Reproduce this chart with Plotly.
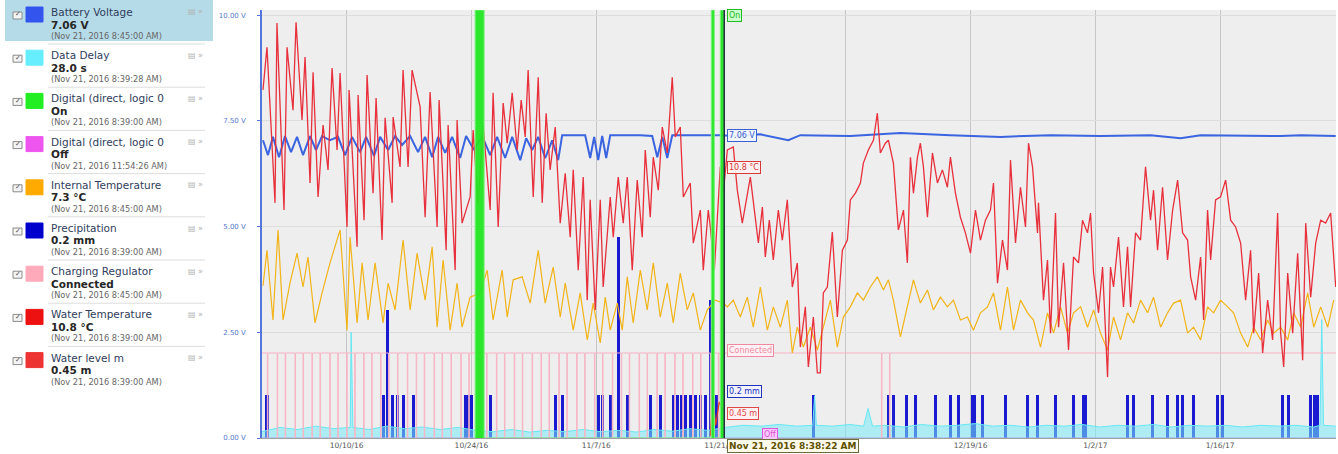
import pandas as pd
import plotly.graph_objects as go

# ---------------- DATA ----------------
START = pd.Timestamp("2016-09-30 12:00:00")   # day 0
SPAN_DAYS = 120.5
Y_TOP = 10.12
CURSOR_DAY = 51.86                              # Nov 21, 2016 8:38:22 AM

x_tick_days = [9.5, 23.5, 37.5, 51.5, 65.5, 79.5, 93.5, 107.5]
x_tick_text = ["10/10/16", "10/24/16", "11/7/16", "11/21/16", "",
               "12/19/16", "1/2/17", "1/16/17"]
y_tick_vals = [0, 2.5, 5, 7.5, 10]
y_tick_text = ["0.00 V", "2.50 V", "5.00 V", "7.50 V", "10.00 V"]

# Water Temperature (day, value on the 0-10 scale)
water_temp = [
    (0.11, 8.23), (0.56, 9.24), (1.46, 5.56), (1.68, 9.81), (2.47, 5.39), (2.81, 9.24),
    (3.48, 7.75), (3.82, 9.83), (4.49, 7.52), (4.83, 9.01), (5.39, 6.03), (5.73, 8.65),
    (6.29, 5.70), (6.85, 7.40), (7.41, 6.34), (7.86, 8.75), (8.42, 6.81), (8.76, 8.63),
    (9.54, 4.99), (9.77, 8.23), (10.67, 4.52), (10.78, 8.11), (11.45, 5.15), (11.79, 8.58),
    (12.46, 5.79), (12.80, 8.04), (13.47, 4.68), (13.81, 7.57), (14.60, 5.56), (14.71, 7.59),
    (15.49, 6.41), (15.83, 8.70), (16.39, 6.41), (16.84, 8.70), (17.74, 7.83), (18.30, 5.22),
    (18.86, 8.18), (19.65, 4.99), (19.87, 7.99), (20.66, 4.44), (20.88, 7.40), (21.67, 3.97),
    (21.89, 7.52), (22.45, 5.08), (23.35, 5.70), (23.69, 7.28), (24.25, 5.50), (24.81, 7.40),
    (25.60, 5.39), (25.93, 8.16), (26.50, 4.99),
    (27.06, 7.92), (27.51, 6.97), (28.07, 8.16), (28.63, 6.81), (29.08, 7.99), (29.53, 7.12),
    (29.86, 8.70), (30.43, 5.70), (30.99, 8.53), (31.44, 5.56), (31.88, 7.68), (32.33, 6.34),
    (32.90, 7.35), (33.46, 5.08), (34.02, 6.26), (34.58, 4.75), (34.92, 6.34), (35.48, 3.97),
    (36.04, 6.17), (36.49, 3.26), (36.82, 5.63), (37.39, 3.03), (37.95, 5.63), (38.28, 3.57),
    (39.07, 5.70), (39.41, 4.75), (39.97, 6.17), (40.53, 5.08), (40.98, 6.17), (41.54, 3.97),
    (42.10, 6.10), (42.66, 4.75), (43.00, 6.81), (43.56, 5.22), (43.90, 6.64), (44.46, 5.86),
    (44.91, 7.35), (45.47, 6.74), (46.03, 8.53), (46.37, 7.12), (46.93, 7.35), (47.27, 5.70),
    (48.05, 6.03), (48.39, 4.61), (49.18, 5.39), (49.51, 3.97), (50.07, 5.39), (50.30, 4.99),
    (50.75, 3.97), (51.42, 6.41), (51.76, 5.79),
    (52.21, 6.81), (52.88, 6.88), (53.33, 5.86), (53.89, 5.08), (54.79, 6.17), (55.12, 5.63),
    (55.69, 4.61), (56.14, 5.46), (56.47, 4.28), (56.92, 5.15), (57.37, 4.21), (57.93, 5.39),
    (58.38, 4.68), (58.94, 5.63), (59.50, 3.57), (60.06, 4.14), (60.40, 2.15), (60.96, 3.10),
    (61.30, 1.68), (61.86, 2.86), (62.31, 1.54), (62.64, 1.54), (62.98, 3.43), (63.43, 3.57),
    (63.99, 4.87), (64.55, 2.86), (65.12, 4.44), (65.68, 4.68), (66.01, 5.63), (66.58, 5.79),
    (67.14, 6.03), (67.47, 6.50), (68.03, 6.81), (68.60, 7.04), (69.04, 7.68), (69.38, 6.74),
    (69.94, 6.97), (70.28, 7.04), (70.84, 6.50), (71.40, 4.92), (71.97, 5.39), (72.41, 4.14),
    (72.75, 6.64), (73.09, 5.79), (73.54, 6.64), (73.87, 6.97), (74.21, 6.41), (74.66, 5.22),
    (75.22, 6.74), (75.78, 6.03), (76.34, 6.34), (76.90, 5.93), (77.24, 6.64), (77.80, 5.79),
    (78.36, 5.22), (78.92, 4.85), (79.49, 4.37), (80.05, 5.39), (80.61, 4.68), (81.17, 5.15),
    (81.73, 5.39), (82.07, 6.03), (82.52, 3.66), (83.08, 4.68), (83.64, 3.97), (83.98, 6.57),
    (84.54, 4.61), (85.10, 5.93), (85.66, 4.99), (86.00, 6.97),
    (86.45, 6.41), (87.01, 4.85), (87.12, 5.56), (87.68, 3.26), (88.13, 4.21), (88.47, 2.48),
    (89.03, 5.32), (89.37, 2.62), (89.93, 4.14), (90.49, 2.08), (91.05, 4.28), (91.61, 4.14),
    (92.06, 5.15), (92.62, 4.85), (92.96, 5.32), (93.30, 3.90), (93.86, 2.96), (94.31, 4.04),
    (94.87, 1.44), (95.20, 4.04), (95.54, 3.57), (96.10, 4.75), (96.66, 3.10), (97.11, 4.52),
    (97.45, 3.10), (98.01, 4.85), (98.57, 4.68), (99.13, 6.41), (99.69, 5.15), (100.03, 5.86),
    (100.48, 4.44), (101.04, 5.93), (101.60, 4.21), (102.17, 5.39), (102.73, 6.10), (103.29, 4.85),
    (103.85, 4.68), (104.19, 3.81), (104.75, 3.26), (105.31, 4.28), (105.65, 2.79), (106.09, 5.39),
    (106.43, 4.21), (106.99, 5.63), (107.55, 5.70), (108.12, 6.10), (108.68, 5.15), (109.24, 4.99),
    (109.80, 4.61), (110.36, 3.26), (110.92, 4.44), (111.26, 2.48), (111.82, 3.90), (112.27, 2.01),
    (112.83, 3.26), (113.39, 2.32), (113.95, 5.32), (114.29, 2.48), (114.63, 1.68), (115.08, 3.90),
    (115.64, 2.48), (116.20, 4.37), (116.76, 1.84), (117.10, 5.08), (117.66, 3.33), (118.22, 4.61),
    (118.78, 5.15), (119.34, 5.08), (119.90, 5.32), (120.47, 3.57),
]

# Internal Temperature
internal_temp = [
    (0.11, 3.60), (0.56, 4.44), (1.23, 2.79), (1.80, 4.92), (2.36, 2.79), (3.14, 3.66),
    (3.93, 4.37), (4.60, 3.57), (5.16, 4.28), (5.95, 2.72), (6.74, 3.43), (7.63, 4.14),
    (8.76, 4.92), (9.54, 2.55), (9.88, 4.75), (10.67, 2.72), (11.23, 4.14), (11.90, 2.79),
    (12.69, 4.14), (13.58, 2.72), (14.15, 3.66), (14.93, 3.03), (15.83, 4.68), (16.62, 3.03),
    (17.40, 4.37), (18.30, 3.26), (19.09, 4.52), (19.65, 2.62), (20.32, 4.21), (21.11, 2.55),
    (21.89, 3.66), (22.45, 2.62), (23.35, 3.33), (24.47, 3.43), (25.26, 3.97), (25.93, 2.79),
    (26.94, 3.97), (27.51, 2.86), (28.18, 3.74), (29.19, 3.81), (30.09, 3.19), (30.99, 4.44),
    (31.77, 3.19), (32.67, 4.04), (33.46, 2.86), (34.02, 3.66), (34.92, 2.55), (35.70, 3.43),
    (36.49, 2.32), (37.16, 3.19), (37.95, 2.25), (38.51, 3.33), (39.07, 2.55), (39.86, 3.19),
    (40.42, 2.55), (40.98, 3.81), (41.65, 2.72), (42.44, 3.97), (43.22, 3.03), (43.90, 4.14),
    (44.68, 2.86), (45.47, 3.66), (46.14, 2.72), (46.93, 3.90), (47.71, 3.03), (48.39, 3.43),
    (49.18, 2.55), (49.96, 3.03), (50.86, 3.26), (51.76, 3.19),
    (52.21, 3.10), (52.88, 3.26), (53.66, 2.86), (54.45, 3.33), (55.12, 2.62), (55.91, 3.57),
    (56.70, 2.55), (57.37, 3.10), (58.16, 2.62), (58.94, 3.26), (59.50, 2.01), (60.06, 2.62),
    (60.74, 2.15), (61.52, 2.62), (62.31, 2.08), (62.98, 2.62), (63.77, 3.26), (64.55, 2.15),
    (65.23, 2.86), (66.01, 3.10), (66.80, 3.43), (67.47, 3.26), (68.26, 3.57), (69.04, 3.81),
    (69.72, 3.50), (70.28, 3.74), (70.84, 3.26), (71.63, 2.39), (72.41, 3.10), (73.09, 3.74),
    (73.87, 3.19), (74.66, 3.50), (75.33, 3.03), (76.12, 3.33), (76.90, 3.10), (77.58, 3.26),
    (78.36, 2.79), (79.15, 2.86), (79.82, 2.55), (80.61, 2.96), (81.40, 3.10), (82.07, 3.43),
    (82.86, 2.55), (83.64, 3.57), (84.32, 2.55), (85.10, 3.26), (85.89, 2.96),
    (86.56, 2.79), (87.35, 2.15), (88.13, 2.96), (88.81, 2.48), (89.59, 3.10), (90.38, 2.48),
    (91.05, 2.96), (91.84, 3.10), (92.62, 2.62), (93.30, 3.03), (94.08, 2.48), (94.87, 2.08),
    (95.54, 2.86), (96.33, 2.32), (97.11, 2.96), (97.79, 2.72), (98.57, 3.26), (99.36, 2.96),
    (100.03, 3.33), (100.82, 2.62), (101.60, 2.96), (102.28, 3.19), (103.06, 3.26), (103.85, 2.48),
    (104.52, 2.62), (105.31, 2.32), (106.09, 3.10), (106.77, 2.96), (107.55, 3.26), (108.34, 3.10),
    (109.01, 2.96), (109.80, 2.48), (110.59, 2.15), (111.26, 2.62), (112.05, 2.32), (112.83, 2.79),
    (113.51, 2.48), (114.29, 2.62), (115.08, 2.32), (115.75, 2.96), (116.54, 2.62), (117.32, 3.43),
    (118.00, 2.62), (118.78, 3.10), (119.57, 2.62), (120.24, 3.26),
]

# Battery Voltage
battery = [
    (0.11, 7.04), (0.67, 6.69), (1.23, 7.12), (1.91, 6.64), (2.58, 7.14), (3.26, 6.76),
    (3.93, 7.12), (4.60, 6.69), (5.39, 7.14), (6.06, 6.81), (6.74, 7.14), (7.63, 7.04),
    (8.53, 7.12), (9.32, 6.69), (10.10, 7.12), (11.00, 6.76), (11.68, 7.12), (12.57, 6.67),
    (13.25, 7.12), (14.15, 6.81), (14.93, 7.14), (15.72, 6.93), (16.62, 7.14), (17.51, 6.76),
    (18.30, 7.12), (19.09, 6.64), (19.76, 7.12), (20.55, 6.74), (21.33, 7.12), (22.23, 6.62),
    (22.90, 7.14), (23.80, 6.81), (24.70, 7.14), (25.60, 6.69), (26.38, 7.12), (27.28, 6.62),
    (28.07, 7.12), (28.97, 6.57), (29.64, 7.09), (30.31, 6.81), (30.99, 7.12), (31.77, 6.62),
    (32.56, 7.04), (33.23, 6.57), (33.68, 7.16), (35.14, 7.16), (36.26, 7.16), (36.82, 6.62),
    (37.27, 7.12), (37.72, 6.57), (38.17, 7.14), (38.62, 6.62), (39.07, 7.16), (40.75, 7.16),
    (42.44, 7.16), (43.78, 7.14), (44.35, 6.64), (44.91, 7.12), (45.47, 6.62), (46.03, 7.16),
    (48.05, 7.16), (49.74, 7.16), (51.42, 7.16), (53.10, 7.14), (55.91, 7.18), (59.05, 7.04),
    (60.40, 7.16), (66.01, 7.14), (71.63, 7.21), (77.24, 7.16), (82.86, 7.12), (88.47, 7.16),
    (94.08, 7.14), (99.69, 7.16), (103.06, 7.09), (105.31, 7.16), (110.92, 7.14), (114.29, 7.14),
    (116.54, 7.16), (120.47, 7.14),
]

# Data Delay (scaled)
data_delay = [
    (0.0, 0.15), (2.0, 0.25), (4.0, 0.20), (6.0, 0.28), (8.0, 0.22), (9.9, 0.25), (10.0, 2.50),
    (10.2, 0.25), (12.0, 0.20), (14.0, 0.28), (16.0, 0.22), (18.0, 0.26), (20.0, 0.20),
    (22.0, 0.25), (24.0, 0.18), (26.0, 0.15), (28.0, 0.20), (30.0, 0.14), (32.0, 0.18),
    (34.0, 0.15), (36.0, 0.20), (38.0, 0.15), (40.0, 0.18), (42.0, 0.14), (44.0, 0.20),
    (46.0, 0.16), (48.0, 0.22), (50.0, 0.18), (52.0, 0.25), (54.0, 0.30), (56.0, 0.28),
    (58.0, 0.32), (60.0, 0.28), (61.8, 0.30), (62.0, 1.00), (62.2, 0.30), (64.0, 0.28),
    (66.0, 0.32), (67.5, 0.28), (68.0, 0.70), (68.5, 0.28), (70.0, 0.30), (72.0, 0.26),
    (74.0, 0.32), (76.0, 0.28), (78.0, 0.30), (80.0, 0.34), (82.0, 0.28), (84.0, 0.30),
    (86.0, 0.26), (88.0, 0.30), (90.0, 0.28), (92.0, 0.32), (94.0, 0.26), (96.0, 0.30),
    (98.0, 0.28), (100.0, 0.32), (102.0, 0.26), (104.0, 0.30), (106.0, 0.28), (108.0, 0.30),
    (110.0, 0.26), (112.0, 0.30), (114.0, 0.28), (116.0, 0.30), (118.0, 0.26), (118.7, 0.30),
    (118.9, 2.80), (119.1, 0.30), (120.5, 0.28),
]

# Precipitation events
precip_days = [0.56, 13.58, 14.03, 14.60, 15.16, 15.83, 16.95, 22.79, 23.13, 23.46, 25.60,
               32.90, 33.68, 37.72, 38.17, 39.07, 39.97, 40.98, 43.56, 44.68, 46.14, 46.59,
               47.04, 47.49, 48.05, 48.61, 49.18, 49.74, 50.30, 50.97, 61.86, 70.28, 70.84,
               72.30, 73.31, 75.56, 77.24, 78.14, 79.71, 79.94, 80.84, 83.42, 85.89, 87.01,
               89.03, 91.05, 92.17, 92.40, 97.11, 97.79, 99.92, 101.60, 102.73, 103.29,
               104.52, 107.22, 107.78, 114.52, 115.19, 117.66, 118.11, 118.45]
precip_vals = [1.02, 1.02, 3.03, 1.02, 1.02, 1.02, 1.02, 1.02, 1.02, 1.02, 1.02,
               1.02, 1.02, 1.02, 1.02, 1.02, 4.75, 1.02, 1.02, 1.02, 1.02, 1.02,
               1.02, 1.02, 1.02, 1.02, 1.02, 1.02, 3.26, 1.02, 1.02, 1.02, 1.02,
               1.02, 1.02, 1.02, 1.02, 1.02, 1.02, 1.02, 1.02, 1.02, 1.02, 1.02,
               1.02, 1.02, 1.02, 1.02, 1.02, 1.02, 1.02, 1.02, 1.02, 1.02,
               1.02, 1.02, 1.02, 1.02, 1.02, 1.02, 1.02, 1.02]

# Charging Regulator: connected level and brief disconnections
charging_level = 2.01
charging_drop_days = [0.6, 1.7, 2.6, 3.7, 4.6, 5.6, 6.5, 7.6, 8.5, 9.5, 10.4, 11.4, 12.3, 13.3,
                      14.2, 15.2, 16.3, 17.3, 18.2, 19.3, 20.2, 21.2, 22.3, 23.2, 24.3, 25.2,
                      26.3, 27.2, 28.3, 29.2, 30.3, 31.3, 32.2, 33.3, 34.2, 35.3, 36.2, 37.3,
                      38.2, 39.3, 40.3, 41.2, 42.3, 43.2, 44.3, 45.2, 46.3, 47.2, 48.3, 49.2,
                      50.3, 51.2, 69.5, 70.4]
charging_drop_len = 0.06

# Digital (direct, logic 0) On intervals
digital_on = [(23.91, 24.92), (50.41, 50.75), (51.42, 51.86)]

# Water level (scaled)
water_level = [(50.30, 0.05), (50.60, 1.00), (50.90, 0.30), (51.30, 0.85), (51.86, 0.59)]

legend_items = [
    ("Battery Voltage", "7.06 V", "(Nov 21, 2016 8:45:00 AM)", "#3355ee"),
    ("Data Delay", "28.0 s", "(Nov 21, 2016 8:39:28 AM)", "#66eeff"),
    ("Digital (direct, logic 0", "On", "(Nov 21, 2016 8:39:00 AM)", "#22ee22"),
    ("Digital (direct, logic 0", "Off", "(Nov 21, 2016 11:54:26 AM)", "#ee55ee"),
    ("Internal Temperature", "7.3 °C", "(Nov 21, 2016 8:45:00 AM)", "#ffaa00"),
    ("Precipitation", "0.2 mm", "(Nov 21, 2016 8:39:00 AM)", "#0000cc"),
    ("Charging Regulator", "Connected", "(Nov 21, 2016 8:45:00 AM)", "#ffaabb"),
    ("Water Temperature", "10.8 °C", "(Nov 21, 2016 8:39:00 AM)", "#ee1111"),
    ("Water level m", "0.45 m", "(Nov 21, 2016 8:39:00 AM)", "#ee3333"),
]

# ---------------- HELPERS ----------------
FONT = "DejaVu Sans"


def to_time(days):
    return [START + pd.Timedelta(days=d) for d in days]


def unpack(pairs):
    return [p[0] for p in pairs], [p[1] for p in pairs]


# plot area in pixels (for placing the side panel)
PL, PT, PW, PH = 262, 10, 1074, 428


def px(x):
    return (x - PL) / PW


def py(y):
    return (PT + PH - y) / PH


fig = go.Figure()

# Digital Off (at zero)
fig.add_trace(go.Scatter(x=to_time([0, SPAN_DAYS]), y=[0, 0], mode="lines",
                         line=dict(color="#ee55ee", width=1), hoverinfo="skip"))

# Data delay
dd_d, dd_v = unpack(data_delay)
fig.add_trace(go.Scatter(x=to_time(dd_d), y=dd_v, mode="lines",
                         line=dict(color="#66e8f4", width=1), fill="tozeroy",
                         fillcolor="rgba(120,235,245,0.55)", hoverinfo="skip"))

# Charging regulator step line
ch_d, ch_v = [0.0], [charging_level]
for d in charging_drop_days:
    ch_d += [d, d, d + charging_drop_len, d + charging_drop_len]
    ch_v += [charging_level, 0, 0, charging_level]
ch_d.append(SPAN_DAYS)
ch_v.append(charging_level)
fig.add_trace(go.Scatter(x=to_time(ch_d), y=ch_v, mode="lines",
                         line=dict(color="#f8b4c4", width=1), hoverinfo="skip"))

# Precipitation bars
bar_w = pd.Timedelta(days=0.34).total_seconds() * 1000
fig.add_trace(go.Bar(x=to_time(precip_days), y=precip_vals, width=bar_w,
                     marker=dict(color="#1a1ad0", line=dict(width=0)), hoverinfo="skip"))

# Internal temperature
it_d, it_v = unpack(internal_temp)
fig.add_trace(go.Scatter(x=to_time(it_d), y=it_v, mode="lines",
                         line=dict(color="#f2b418", width=1.2), hoverinfo="skip"))

# Battery voltage
bv_d, bv_v = unpack(battery)
fig.add_trace(go.Scatter(x=to_time(bv_d), y=bv_v, mode="lines",
                         line=dict(color="#3a64e0", width=2), hoverinfo="skip"))

# Water temperature
wt_d, wt_v = unpack(water_temp)
fig.add_trace(go.Scatter(x=to_time(wt_d), y=wt_v, mode="lines",
                         line=dict(color="#e8303c", width=1.3), hoverinfo="skip"))

# Water level
wl_d, wl_v = unpack(water_level)
fig.add_trace(go.Scatter(x=to_time(wl_d), y=wl_v, mode="lines",
                         line=dict(color="#e04020", width=1.2), hoverinfo="skip"))

# Digital On bands
dg_d, dg_v = [], []
for s, e in digital_on:
    dg_d += [s, s, e, e]
    dg_v += [0, Y_TOP, Y_TOP, 0]
fig.add_trace(go.Scatter(x=to_time(dg_d), y=dg_v, mode="lines",
                         line=dict(color="#7df07d", width=1), fill="tozeroy",
                         fillcolor="rgba(34,230,34,0.95)", hoverinfo="skip"))

# Cursor line
cursor_t = START + pd.Timedelta(days=CURSOR_DAY)
fig.add_trace(go.Scatter(x=[cursor_t, cursor_t], y=[0, Y_TOP], mode="lines",
                         line=dict(color="#1d2a3a", width=1.5), hoverinfo="skip"))

shapes = []
annotations = []

# cursor value boxes
lbl_t = START + pd.Timedelta(days=CURSOR_DAY + 0.35)


def value_box(text, y, color, bg, x=lbl_t):
    annotations.append(dict(x=x, y=y, xref="x", yref="y", text=text, showarrow=False,
                            xanchor="left", yanchor="middle",
                            font=dict(family=FONT, size=8, color=color),
                            bgcolor=bg, bordercolor=color, borderwidth=1, borderpad=1))


value_box("7.06 V", 7.16, "#3a5fcf", "rgba(240,244,255,0.95)")
value_box("10.8 °C", 6.40, "#d83838", "rgba(255,240,240,0.95)")
value_box("Connected", 2.07, "#f08aa0", "rgba(255,240,244,0.95)")
value_box("0.2 mm", 1.11, "#2233bb", "rgba(240,240,255,0.95)")
value_box("0.45 m", 0.59, "#e04848", "rgba(255,240,240,0.95)")
value_box("Off", 0.08, "#dd55dd", "rgba(255,200,255,0.95)",
          x=START + pd.Timedelta(days=56.1))
value_box("On", 10.0, "#22bb22", "rgba(200,255,200,0.95)")

# date tooltip under the axis
annotations.append(dict(x=lbl_t, y=py(446), xref="x", yref="paper",
                        text="<b>Nov 21, 2016 8:38:22 AM</b>", showarrow=False,
                        xanchor="left", yanchor="middle",
                        font=dict(family=FONT, size=9, color="#5e5000"),
                        bgcolor="#fffbea", bordercolor="#6b6a3a", borderwidth=1, borderpad=1))

# ---------------- SIDE PANEL ----------------
shapes.append(dict(type="rect", xref="paper", yref="paper", x0=px(5), x1=px(213),
                   y0=py(41), y1=py(0), fillcolor="#b6dbe8", line=dict(width=0), layer="below"))

for i, (title, val, date, col) in enumerate(legend_items):
    top = 3 + i * 43.2
    shapes.append(dict(type="rect", xref="paper", yref="paper", x0=px(13), x1=px(22),
                       y0=py(top + 16), y1=py(top + 9), fillcolor="#f4f4f4",
                       line=dict(color="#8a8a8a", width=1)))
    annotations.append(dict(x=px(17.5), y=py(top + 11.5), xref="paper", yref="paper",
                            text="✓", showarrow=False, xanchor="center", yanchor="middle",
                            font=dict(family=FONT, size=7, color="#555")))
    shapes.append(dict(type="rect", xref="paper", yref="paper", x0=px(26), x1=px(43),
                       y0=py(top + 19), y1=py(top + 4), fillcolor=col,
                       line=dict(color=col, width=1)))
    annotations.append(dict(x=px(49), y=py(top + 9), xref="paper", yref="paper",
                            text=title, showarrow=False, xanchor="left", yanchor="middle",
                            font=dict(family=FONT, size=10.5, color="#2f3d5c")))
    annotations.append(dict(x=px(49), y=py(top + 21.5), xref="paper", yref="paper",
                            text="<b>" + val + "</b>", showarrow=False, xanchor="left",
                            yanchor="middle", font=dict(family=FONT, size=10.5, color="#262626")))
    annotations.append(dict(x=px(49), y=py(top + 33), xref="paper", yref="paper",
                            text=date, showarrow=False, xanchor="left", yanchor="middle",
                            font=dict(family=FONT, size=8.2, color="#666")))
    annotations.append(dict(x=px(205), y=py(top + 9), xref="paper", yref="paper",
                            text="▤ »", showarrow=False, xanchor="right", yanchor="middle",
                            font=dict(family=FONT, size=8, color="#b0b0b0")))
    if i < len(legend_items) - 1:
        shapes.append(dict(type="line", xref="paper", yref="paper", x0=px(48), x1=px(205),
                           y0=py(top + 41), y1=py(top + 41),
                           line=dict(color="#dddddd", width=1)))

fig.update_layout(
    width=1338, height=454, autosize=False,
    margin=dict(l=PL, r=1338 - PL - PW, t=PT, b=454 - PT - PH, pad=0),
    paper_bgcolor="white", plot_bgcolor="#eeeeee",
    showlegend=False, bargap=0, hovermode=False,
    shapes=shapes, annotations=annotations,
    font=dict(family=FONT),
)
fig.update_xaxes(
    range=[START, START + pd.Timedelta(days=SPAN_DAYS)],
    tickvals=to_time(x_tick_days), ticktext=x_tick_text,
    tickfont=dict(family=FONT, size=7.5, color="#555"),
    showgrid=True, gridcolor="#c6c6c6", gridwidth=1,
    showline=True, linecolor="#a0a0a0", linewidth=1,
    ticks="", ticklen=0, ticklabelstandoff=0, zeroline=False, fixedrange=True,
)
fig.update_yaxes(
    range=[0, Y_TOP], tickvals=y_tick_vals, ticktext=y_tick_text,
    tickfont=dict(family=FONT, size=7, color="#5577cc"),
    showgrid=True, gridcolor="#dddddd", gridwidth=1,
    showline=True, linecolor="#5577dd", linewidth=1.5,
    ticks="outside", ticklen=3, tickcolor="#5577dd",
    ticklabelstandoff=10, zeroline=False, fixedrange=True,
)

fig.write_html("out.html", config={"displayModeBar": False},
               post_script="document.body.style.margin='0';document.body.style.overflow='hidden';")
